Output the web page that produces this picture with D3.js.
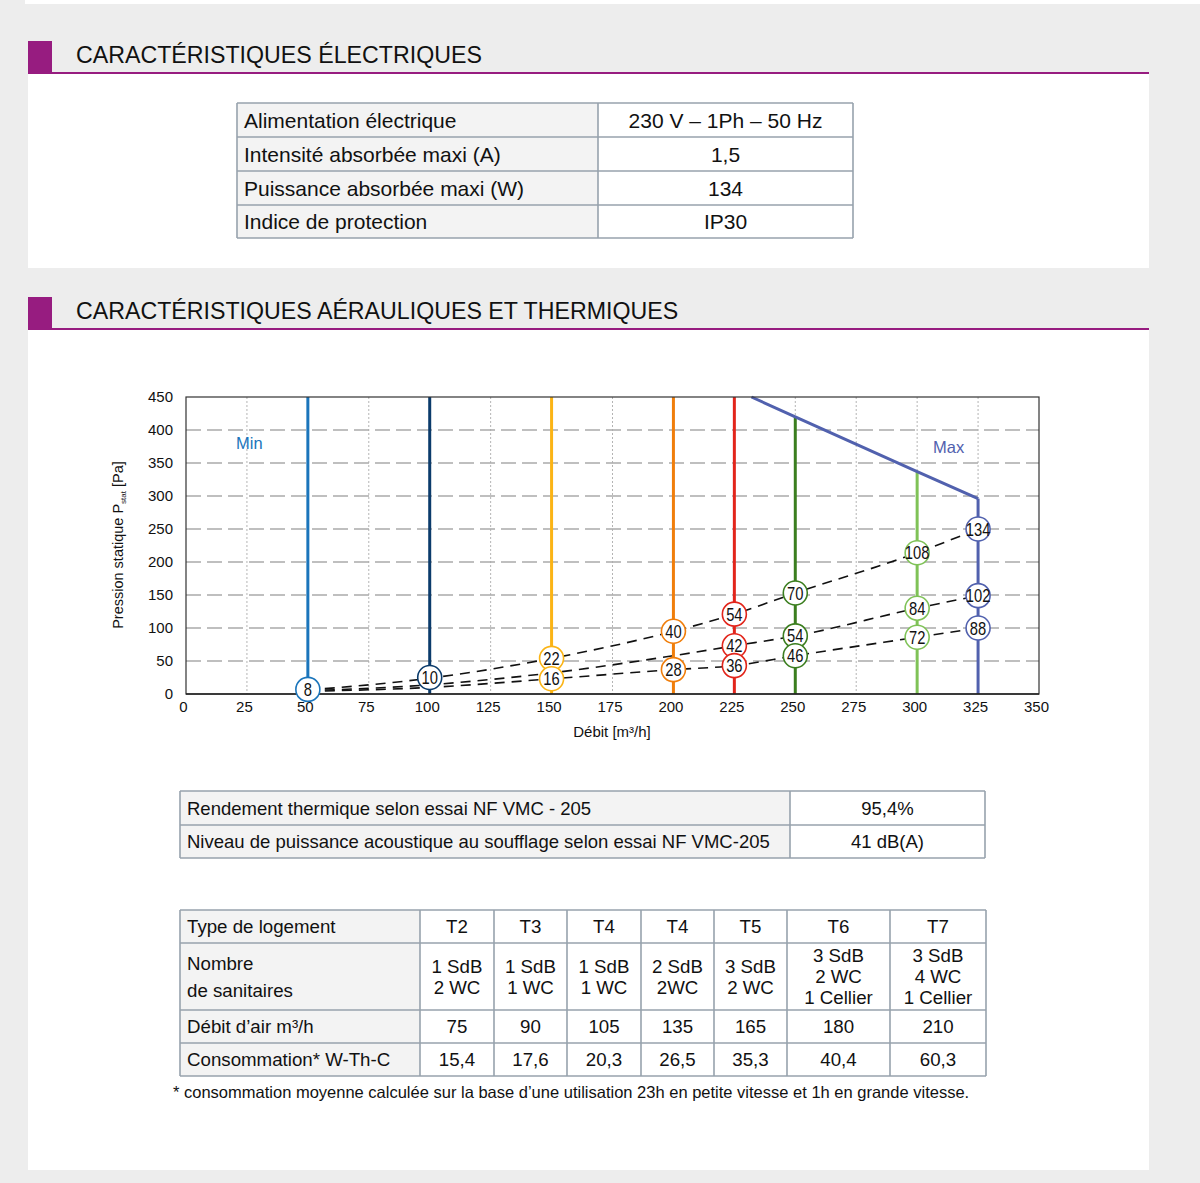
<!DOCTYPE html>
<html>
<head>
<meta charset="utf-8">
<script src="https://cdn.jsdelivr.net/npm/d3@7"></script>
<style>
  html, body { margin: 0; padding: 0; background: #ededed; }
  svg { display: block; font-family: "Liberation Sans", Arial, sans-serif; }
</style>
</head>
<body>
<div id="page"></div>
<script>
// fan speeds (vertical curves) - debit m3/h
var speeds = [50, 100, 150, 200, 225, 250, 300, 325];
var speedColors = ["#1b75bb", "#0b3b6b", "#fbb415", "#f07e0b", "#e2251b", "#3b7e1f", "#7fc257", "#5161ae"];
var speedTops = [450, 450, 450, 450, 450, 420, 337, 296];

// max envelope
var maxFlow = [232, 250, 300, 325];
var maxPressure = [450, 420, 337, 296];

// labelled points : debit, pression, puissance (W)
var markerFlow = [50, 100, 150, 150, 200, 200, 225, 225, 225, 250, 250, 250, 300, 300, 300, 325, 325, 325];
var markerPressure = [7, 25, 54, 23, 95, 37, 121, 73, 43, 153, 88, 58, 214, 130, 86, 250, 149, 100];
var markerPower = [8, 10, 22, 16, 40, 28, 54, 42, 36, 70, 54, 46, 108, 84, 72, 134, 102, 88];

// network curves (dashed)
var curveHigh = [[50, 6], [100, 24], [150, 54], [200, 95], [225, 121], [250, 153], [300, 214], [325, 250]];
var curveMid = [[50, 5], [100, 14], [150, 32], [200, 58], [225, 73], [250, 88], [300, 130], [325, 149]];
var curveLow = [[50, 4], [100, 10], [150, 23], [200, 37], [225, 43], [250, 58], [300, 86], [325, 100]];

var xTicks = d3.range(0, 351, 25);
var yTicks = d3.range(0, 451, 50);

// tables
var elecRows = [
  ["Alimentation électrique", "230 V – 1Ph – 50 Hz"],
  ["Intensité absorbée maxi (A)", "1,5"],
  ["Puissance absorbée maxi (W)", "134"],
  ["Indice de protection", "IP30"]
];
var thermRows = [
  ["Rendement thermique selon essai NF VMC - 205", "95,4%"],
  ["Niveau de puissance acoustique au soufflage selon essai NF VMC-205", "41 dB(A)"]
];
var logementTypes = ["T2", "T3", "T4", "T4", "T5", "T6", "T7"];
var sanitaires = ["1 SdB\n2 WC", "1 SdB\n1 WC", "1 SdB\n1 WC", "2 SdB\n2WC", "3 SdB\n2 WC", "3 SdB\n2 WC\n1 Cellier", "3 SdB\n4 WC\n1 Cellier"];
var debits = ["75", "90", "105", "135", "165", "180", "210"];
var consos = ["15,4", "17,6", "20,3", "26,5", "35,3", "40,4", "60,3"];

var W = 1200, H = 1183;
var purple = "#971c80", border = "#97a2ad";

var svg = d3.select("#page").append("svg")
    .attr("width", W)
    .attr("height", H);

// page background + panels
svg.append("rect").attr("width", W).attr("height", H).attr("fill", "#ededed");
svg.append("rect").attr("x", 25).attr("y", 0).attr("width", W - 25).attr("height", 4).attr("fill", "#fff");
svg.append("rect").attr("x", 28).attr("y", 74).attr("width", 1121).attr("height", 194).attr("fill", "#fff");
svg.append("rect").attr("x", 28).attr("y", 330).attr("width", 1121).attr("height", 840).attr("fill", "#fff");

function header(top, label) {
  svg.append("rect").attr("x", 28).attr("y", top).attr("width", 24).attr("height", 31).attr("fill", purple);
  svg.append("rect").attr("x", 28).attr("y", top + 31).attr("width", 1121).attr("height", 2).attr("fill", purple);
  svg.append("text")
      .attr("x", 76)
      .attr("y", top + 22)
      .attr("font-size", 23.2)
      .attr("fill", "#111")
      .text(label);
}
header(41, "CARACTÉRISTIQUES ÉLECTRIQUES");
header(297, "CARACTÉRISTIQUES AÉRAULIQUES ET THERMIQUES");

// generic table : cols / rows are edge positions, cells[r][c] may contain \n
function table(cols, rows, cells, opt) {
  var g = svg.append("g");
  cells.forEach(function (row, r) {
    row.forEach(function (txt, c) {
      var x0 = cols[c], x1 = cols[c + 1], y0 = rows[r], y1 = rows[r + 1];
      g.append("rect")
          .attr("x", x0).attr("y", y0)
          .attr("width", x1 - x0).attr("height", y1 - y0)
          .attr("fill", c === 0 ? "#f3f3f3" : "#fff");
      var lines = txt.split("\n");
      var lh = c === 0 ? opt.firstLh : opt.lh;
      var cy = (y0 + y1) / 2 - (lines.length - 1) * lh / 2;
      g.append("text")
          .attr("x", c === 0 ? x0 + 7 : (x0 + x1) / 2)
          .attr("text-anchor", c === 0 ? "start" : "middle")
          .attr("font-size", opt.size)
          .attr("fill", "#111")
          .selectAll("tspan")
          .data(lines).enter()
          .append("tspan")
          .attr("x", c === 0 ? x0 + 7 : (x0 + x1) / 2)
          .attr("y", function (d, i) { return cy + i * lh + opt.size * 0.36; })
          .text(function (d) { return d; });
    });
  });
  // grid lines
  rows.forEach(function (y) {
    g.append("line").attr("x1", cols[0]).attr("x2", cols[cols.length - 1])
        .attr("y1", y).attr("y2", y).attr("stroke", border).attr("stroke-width", 1.6);
  });
  cols.forEach(function (x) {
    g.append("line").attr("x1", x).attr("x2", x)
        .attr("y1", rows[0]).attr("y2", rows[rows.length - 1]).attr("stroke", border).attr("stroke-width", 1.6);
  });
}

table([237, 598, 853], [103, 137, 171, 205, 238], elecRows, {size: 21, lh: 22, firstLh: 22});
table([180, 790, 985], [791, 825, 858], thermRows, {size: 18.5, lh: 22, firstLh: 22});
table([180, 420, 494, 567, 641, 714, 787, 890, 986], [910, 943, 1010, 1043, 1076], [
  ["Type de logement"].concat(logementTypes),
  ["Nombre\nde sanitaires"].concat(sanitaires),
  ["Débit d’air m³/h"].concat(debits),
  ["Consommation* W-Th-C"].concat(consos)
], {size: 18.7, lh: 21, firstLh: 27});

svg.append("text")
    .attr("x", 173)
    .attr("y", 1098)
    .attr("font-size", 16.5)
    .attr("fill", "#111")
    .text("* consommation moyenne calculée sur la base d’une utilisation 23h en petite vitesse et 1h en grande vitesse.");

// ---------- chart ----------
var x = d3.scaleLinear().domain([0, 350]).range([186, 1039]),
    y = d3.scaleLinear().domain([0, 450]).range([694, 397]);

var chart = svg.append("g").attr("class", "chart");

// vertical dotted grid
chart.append("g").selectAll("line")
    .data(xTicks.slice(1, -1)).enter()
    .append("line")
    .attr("x1", function (d) { return x(d); })
    .attr("x2", function (d) { return x(d); })
    .attr("y1", y(450)).attr("y2", y(0))
    .attr("stroke", "#b4b4b4")
    .attr("stroke-width", 1)
    .attr("stroke-dasharray", "2,2");

// horizontal dashed grid
chart.append("g").selectAll("line")
    .data(yTicks.slice(1, -1)).enter()
    .append("line")
    .attr("x1", x(0)).attr("x2", x(350))
    .attr("y1", function (d) { return y(d); })
    .attr("y2", function (d) { return y(d); })
    .attr("stroke", "#ababab")
    .attr("stroke-width", 1.3)
    .attr("stroke-dasharray", "15,6");

// axes
chart.append("g")
    .attr("transform", "translate(" + x(0) + ",0)")
    .call(d3.axisLeft(y).tickValues(yTicks).tickSize(0).tickPadding(13))
    .call(function (g) { g.select(".domain").remove(); })
    .selectAll("text")
    .attr("font-size", 15)
    .attr("font-family", "Liberation Sans, Arial, sans-serif")
    .attr("fill", "#111");

chart.append("g")
    .attr("transform", "translate(0," + y(0) + ")")
    .call(d3.axisBottom(x).tickValues(xTicks).tickSize(0).tickPadding(7))
    .call(function (g) { g.select(".domain").remove(); })
    .selectAll("text")
    .attr("dx", -3)
    .attr("font-size", 15)
    .attr("font-family", "Liberation Sans, Arial, sans-serif")
    .attr("fill", "#111");

// network curves
var line = d3.line()
    .curve(d3.curveMonotoneX)
    .x(function (d) { return x(d[0]); })
    .y(function (d) { return y(d[1]); });

chart.append("g").selectAll("path")
    .data([curveHigh, curveMid, curveLow]).enter()
    .append("path")
    .attr("d", line)
    .attr("fill", "none")
    .attr("stroke", "#111")
    .attr("stroke-width", 1.6)
    .attr("stroke-dasharray", "10,7");

// fan speed verticals
chart.append("g").selectAll("line")
    .data(speeds).enter()
    .append("line")
    .attr("x1", function (d) { return x(d); })
    .attr("x2", function (d) { return x(d); })
    .attr("y1", y(0))
    .attr("y2", function (d, i) { return y(speedTops[i]); })
    .attr("stroke", function (d, i) { return speedColors[i]; })
    .attr("stroke-width", 3);

// max envelope
chart.append("path")
    .datum(d3.zip(maxFlow, maxPressure))
    .attr("d", d3.line().x(function (d) { return x(d[0]); }).y(function (d) { return y(d[1]); }))
    .attr("fill", "none")
    .attr("stroke", speedColors[7])
    .attr("stroke-width", 3);

// frame
chart.append("rect")
    .attr("x", x(0)).attr("y", y(450))
    .attr("width", x(350) - x(0)).attr("height", y(0) - y(450))
    .attr("fill", "none")
    .attr("stroke", "#333")
    .attr("stroke-width", 1.2);
chart.append("line")
    .attr("x1", x(0)).attr("x2", x(350))
    .attr("y1", y(0)).attr("y2", y(0))
    .attr("stroke", "#222")
    .attr("stroke-width", 1.6);

// markers
var mk = chart.append("g").selectAll("g")
    .data(markerFlow).enter()
    .append("g")
    .attr("transform", function (d, i) { return "translate(" + x(d) + "," + y(markerPressure[i]) + ")"; });
mk.append("circle")
    .attr("r", 12)
    .attr("fill", "#fff")
    .attr("stroke", function (d) { return speedColors[speeds.indexOf(d)]; })
    .attr("stroke-width", 1.6);
mk.append("text")
    .attr("text-anchor", "middle")
    .attr("y", 6.5)
    .attr("transform", "scale(0.82,1)")
    .attr("font-size", 18)
    .attr("fill", "#111")
    .text(function (d, i) { return markerPower[i]; });

// Min / Max
chart.append("text")
    .attr("x", 236).attr("y", 449)
    .attr("font-size", 16.5)
    .attr("fill", speedColors[0])
    .text("Min");
chart.append("text")
    .attr("x", 933).attr("y", 453)
    .attr("font-size", 16.5)
    .attr("fill", speedColors[7])
    .text("Max");

// axis titles
var yl = chart.append("text")
    .attr("transform", "translate(123,545) rotate(-90)")
    .attr("text-anchor", "middle")
    .attr("font-size", 14.5)
    .attr("fill", "#111");
yl.append("tspan").text("Pression statique P");
yl.append("tspan").attr("font-size", 8).attr("dy", 3).text("stat");
yl.append("tspan").attr("dy", -3).text(" [Pa]");

chart.append("text")
    .attr("x", 612).attr("y", 737)
    .attr("text-anchor", "middle")
    .attr("font-size", 15)
    .attr("fill", "#111")
    .text("Débit [m³/h]");
</script>
</body>
</html>
